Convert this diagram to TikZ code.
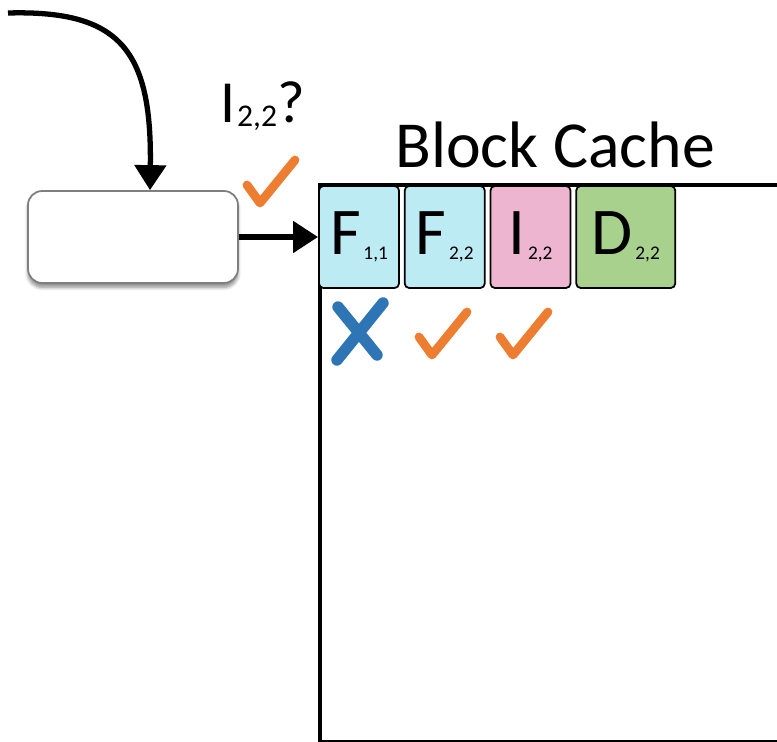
\documentclass[tikz,border=0pt]{standalone}
\usepackage{fontspec}
\setmainfont{Carlito}
\usetikzlibrary{arrows.meta,positioning,shadows.blur}
\definecolor{tileBlue}{HTML}{BDEBF4}
\definecolor{tilePink}{HTML}{EDB5CF}
\definecolor{tileGreen}{HTML}{A9D18E}
\definecolor{markOrange}{HTML}{ED7D31}
\definecolor{markBlue}{HTML}{2E75B6}
\definecolor{boxGray}{HTML}{7F7F7F}
% letter with a small index set low beside it
\newcommand{\blk}[2]{#1\kern1.5pt\raisebox{-3pt}{\fontsize{11}{11}\selectfont #2}}
\tikzset{
  >={Triangle[length=0.5cm,width=0.62cm]},
  sketchy/.style={->,line width=3pt,black},
  reqbox/.style={rectangle,rounded corners=8pt,draw=boxGray,line width=1pt,fill=white,
    minimum width=4.2cm,minimum height=1.84cm,
    blur shadow={shadow xshift=0pt,shadow yshift=-2.5pt,shadow blur steps=6,shadow opacity=45}},
  cachebox/.style={rectangle,draw=black,line width=2.2pt,anchor=north west,
    minimum width=11.64cm,minimum height=11.14cm},
  tile/.style={rectangle,rounded corners=2.5pt,draw=black,line width=1pt,
    minimum width=1.6cm,minimum height=2.04cm,inner sep=0pt,font=\fontsize{38}{38}\selectfont},
  biglabel/.style={font=\fontsize{37.4}{37.4}\selectfont,anchor=base west,inner sep=0pt},
  pics/tick/.style={code={
    \draw[markOrange,line width=5pt,line cap=round,line join=round] (-13,-18) -- (0,0) -- (35,-43);}},
  pics/cross/.style={code={
    \draw[markBlue,line width=6.5pt,line cap=round] (-22,-25) -- (17,23) (23,-29) -- (-23,28);}},
}

\begin{document}
\begin{tikzpicture}[x=0.02cm,y=-0.02cm]
  \clip (0,0) rectangle (777,742);

  \node[cachebox] (cache) at (318,183) {};
  \node[biglabel] (title) at (395,168) {Block Cache};

  \node[reqbox] (req) at (133,237) {};
  \coordinate (src) at (8,13);

  % cached blocks
  \node[tile,fill=tileBlue] (f11) at (359,237) {\blk{F}{1,1}};
  \node[tile,fill=tileBlue,right=0.08cm of f11] (f22) {\blk{F}{2,2}};
  \node[tile,fill=tilePink,right=0.08cm of f22] (i22) {\blk{I}{2,2}};
  \node[tile,fill=tileGreen,minimum width=1.98cm,right=0.08cm of i22] (d22) {\blk{D}{2,2}};

  \draw[sketchy] (src) .. controls (120,10) and (152,50) .. ([xshift=0.34cm]req.north);
  \draw[sketchy] (req.east) -- (cache.west |- req.east);

  \node[font=\fontsize{34}{34}\selectfont,anchor=base west,inner sep=0pt] (query) at (220,123)
    {I\kern1pt\raisebox{-2pt}{\fontsize{18}{18}\selectfont 2,2}?};

  \pic at (260,203) {tick};
  \pic at (360,332) {cross};
  \pic at (432,355) {tick};
  \pic at (513,355) {tick};
\end{tikzpicture}
\end{document}
